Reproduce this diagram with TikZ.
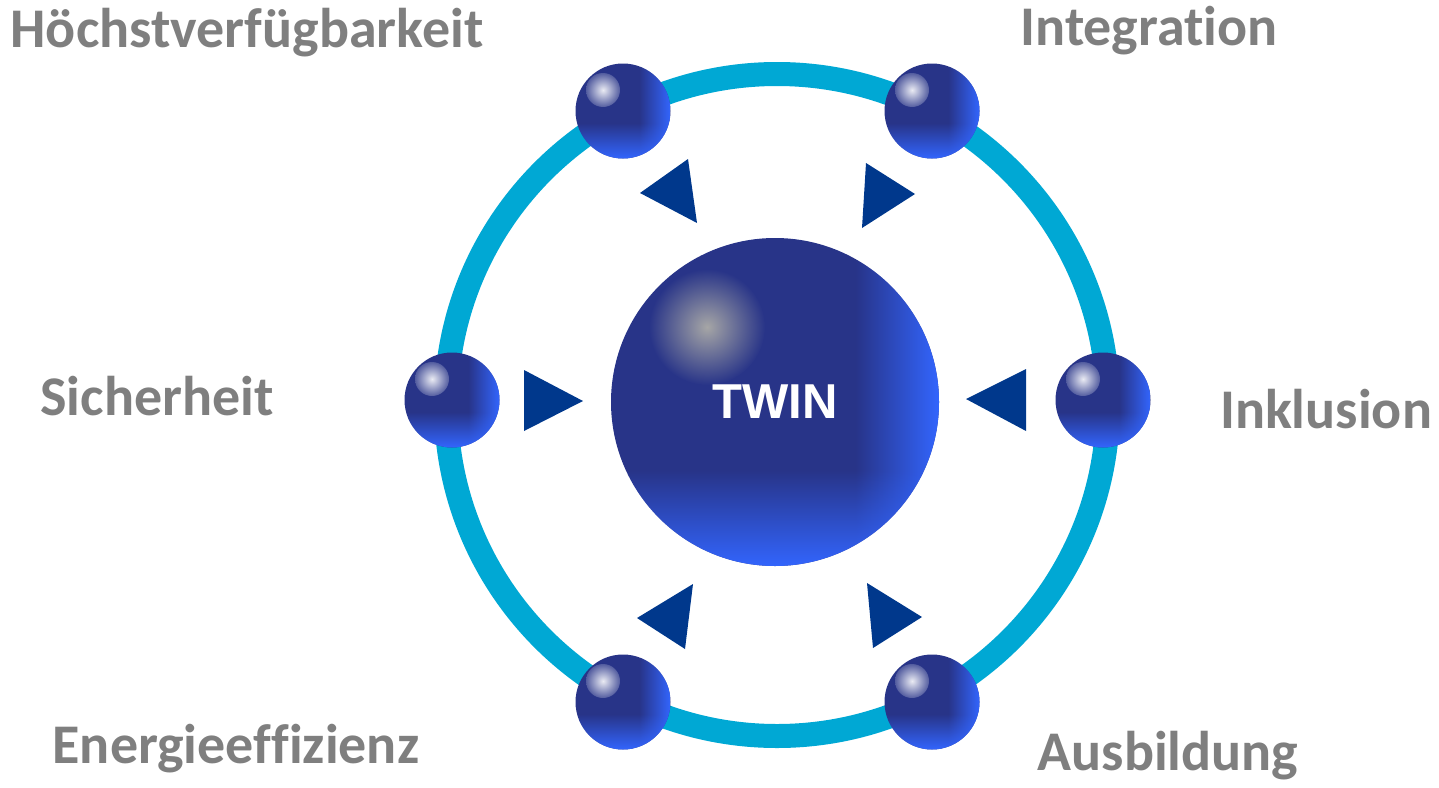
\documentclass[tikz,border=0pt]{standalone}
\usepackage{fontspec}
\setmainfont{Carlito}[Ligatures=NoCommon]
\newfontfamily\twinfont{Liberation Sans}
\usepackage{tikz}
\usetikzlibrary{fadings}
\definecolor{ringblue}{RGB}{0,168,212}
\definecolor{orbdark}{RGB}{40,52,136}
\definecolor{orblight}{RGB}{51,102,255}
\definecolor{arrowblue}{RGB}{0,56,140}
\definecolor{labelgray}{RGB}{127,127,127}
\tikzfading[name=rimright,left color=transparent!100,right color=transparent!0]
\tikzfading[name=rimdown,top color=transparent!100,bottom color=transparent!0]

\begin{document}
\begin{tikzpicture}[x=0.5pt,y=-0.5pt,
  ring/.style={draw=ringblue,line width=12pt},
  pointer/.style={fill=arrowblue},
  topic/.style={text=labelgray,font=\fontsize{28}{30}\selectfont\bfseries,anchor=base,inner sep=0pt},
  core/.style={text=white,font=\twinfont\fontsize{24.5}{26}\selectfont\bfseries,inner sep=0pt}]
\useasboundingbox (0,0) rectangle (1439,787);
% outer ring
\draw[ring] (777,405) circle[radius=331];
% pointers
\foreach \ax/\ay/\bx/\by/\cx/\cy in {640/193/688/159/697/223, 866/163/915/194/862/228,
    524/370/583/401/524/431, 1026/369/966/399/1026/431,
    637/618/693/584/685/649, 867/583/922/617/873/648}
  \fill[pointer] (\ax,\ay) -- (\bx,\by) -- (\cx,\cy) -- cycle;
% small orbs on the ring
\foreach \n/\x/\y in {ohv/623/111, oin/932/111, osi/452/400, oik/1103/400, oee/623/702, oau/932/702} {
  \coordinate (\n) at (\x,\y);
  \fill[orbdark] (\n) circle[radius=47.5];
  \begin{scope}
    \clip (\n) circle[radius=47.5];
    \fill[orblight,path fading=rimright] (\x+16,\y-48) rectangle (\x+48,\y+48);
    \fill[orblight,path fading=rimdown] (\x-48,\y+12) rectangle (\x+48,\y+48);
  \end{scope}
  \shade[inner color=white!90!orbdark,outer color=orbdark!80!white] (\x-20,\y-21) circle[radius=17];
}
% central orb
\coordinate (c) at (775,402);
\fill[orbdark] (c) circle[radius=164];
\begin{scope}
  \clip (c) circle[radius=164];
  \fill[orblight,path fading=rimright] (855,236) rectangle (940,568);
  \fill[orblight,path fading=rimdown] (610,470) rectangle (940,568);
\end{scope}
\shade[inner color=black!35,outer color=orbdark] (707,327) circle[radius=58];
\node[core] (twin) at (c) {TWIN};
% labels
\node[topic] (hoechst) at (247,47) {Höchstverfügbarkeit};
\node[topic] (integ) at (1149,45) {Integration};
\node[topic] (sicher) at (157,415) {Sicherheit};
\node[topic] (inkl) at (1326,428) {Inklusion};
\node[topic] (energie) at (236,763) {Energieeffizienz};
\node[topic] (ausb) at (1168,770) {Ausbildung};
\end{tikzpicture}
\end{document}
